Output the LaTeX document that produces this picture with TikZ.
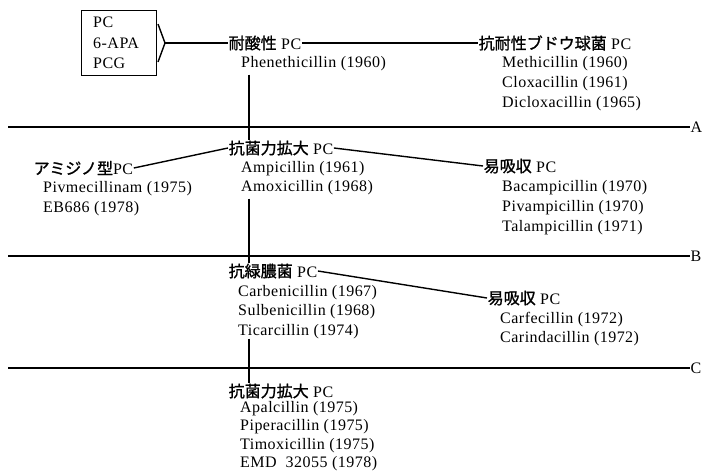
\documentclass[tikz,border=0pt]{standalone}
\usepackage{fontspec}
\setmainfont{Liberation Serif}[LetterSpace=3]
\newfontfamily\jp{Noto Sans CJK JP}[FakeBold=1.2]
\begin{document}
\begin{tikzpicture}[x=1pt,y=-1pt,
  txt/.style={anchor=base west, inner sep=0pt, font=\fontsize{16}{19}\selectfont},
  hd/.style={anchor=west, inner sep=0.5pt, font=\fontsize{16}{19}\selectfont},
  conn/.style={line width=1.4pt},
  era/.style={line width=1.8pt},
  lbl/.style={anchor=west, inner sep=0.5pt, font=\fontsize{16}{19}\selectfont}]
\useasboundingbox (0,0) rectangle (703,471);
% source box
\node[draw, line width=1pt, minimum width=75pt, minimum height=65pt, anchor=north west, inner sep=0pt] (box) at (81,10) {};
\node[txt] (pc) at (93,27) {PC};
\node[txt] (apa) at (93,48) {6-APA};
\node[txt] (pcg) at (93,68) {PCG};
\coordinate (brt) at (158,24);
\coordinate (brk) at (165,43);
\coordinate (brb) at (158,62);
\draw[conn] (brt) -- (brk) -- (brb);
% row 0
\node[hd] (h1) at (228,43) {{\jp 耐酸性} PC};
\node[txt] (phen) at (241,67) {Phenethicillin (1960)};
\node[hd] (h2) at (478,43) {{\jp 抗耐性ブドウ球菌} PC};
\node[txt] (meth) at (502,67) {Methicillin (1960)};
\node[txt] (clox) at (502,87) {Cloxacillin (1961)};
\node[txt] (diclox) at (502,107) {Dicloxacillin (1965)};
\draw[conn] (brk) -- (h1.west);
\draw[conn] (h1.east) -- (h2.west);
% era line A
\coordinate (aL) at (8,127);
\node[lbl] (A) at (690,127) {A};
\draw[era] (aL) -- (A.west);
% row 1
\node[hd] (h3) at (228,148) {{\jp 抗菌力拡大} PC};
\node[txt] (amp) at (241,172) {Ampicillin (1961)};
\node[txt] (amox) at (241,191) {Amoxicillin (1968)};
\node[hd] (h4) at (33,168) {{\jp アミジノ型}PC};
\node[txt] (piv) at (43,192) {Pivmecillinam (1975)};
\node[txt] (eb) at (43,212) {EB686 (1978)};
\node[hd] (h5) at (483,166) {{\jp 易吸収} PC};
\node[txt] (bac) at (502,191) {Bacampicillin (1970)};
\node[txt] (pivamp) at (502,211) {Pivampicillin (1970)};
\node[txt] (tal) at (502,231) {Talampicillin (1971)};
\coordinate (v) at (249,0);
\draw[conn] ([yshift=-4pt]phen.south -| v) -- (h3.north -| v);
\draw[conn] (h4.east) -- (h3.west);
\draw[conn] (h3.east) -- (h5.west);
% era line B
\coordinate (bL) at (8,256);
\node[lbl] (B) at (690,256) {B};
\draw[era] (bL) -- (B.west);
% row 2
\node[hd] (h6) at (228,271) {{\jp 抗緑膿菌} PC};
\node[txt] (carb) at (238,296) {Carbenicillin (1967)};
\node[txt] (sulb) at (238,315) {Sulbenicillin (1968)};
\node[txt] (tic) at (238,335) {Ticarcillin (1974)};
\node[hd] (h7) at (487,298) {{\jp 易吸収} PC};
\node[txt] (carf) at (500,323) {Carfecillin (1972)};
\node[txt] (carin) at (500,342) {Carindacillin (1972)};
\draw[conn] ([yshift=-4pt]amox.south -| v) -- (h6.north -| v);
\draw[conn] (h6.east) -- (h7.west);
% era line C
\coordinate (cL) at (8,368);
\node[lbl] (C) at (690,368) {C};
\draw[era] (cL) -- (C.west);
% row 3
\node[hd] (h8) at (228,391) {{\jp 抗菌力拡大} PC};
\node[txt] (apal) at (240,412) {Apalcillin (1975)};
\node[txt] (pip) at (240,430) {Piperacillin (1975)};
\node[txt] (timo) at (240,449) {Timoxicillin (1975)};
\node[txt] (emd) at (240,467) {EMD\ \ 32055 (1978)};
\draw[conn] (tic.south -| v) -- (h8.north -| v);
\end{tikzpicture}
\end{document}
